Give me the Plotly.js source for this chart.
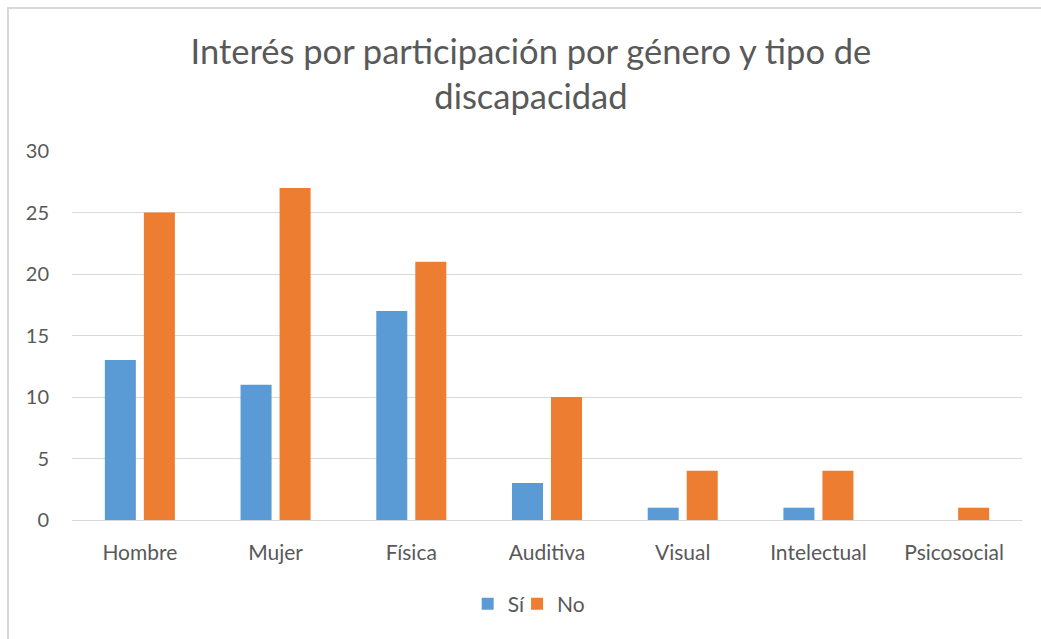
<!DOCTYPE html>
<html><head><meta charset="utf-8">
<script src="https://cdn.plot.ly/plotly-3.0.1.min.js"></script>
<style>
html,body{margin:0;padding:0;background:#fff;}
#wrap{position:relative;width:1041px;height:639px;}
#chart{position:absolute;left:0;top:0;width:1041px;height:639px;}
#frame{position:absolute;left:7px;top:7px;width:1100px;height:700px;border-left:2px solid #D9D9D9;border-top:2px solid #D9D9D9;pointer-events:none;}
</style></head>
<body><div id="wrap"><div id="chart"></div><div id="frame"></div></div>
<script>
const categories = ["Hombre","Mujer","Física","Auditiva","Visual","Intelectual","Psicosocial"];
const si = [13,11,17,3,1,1,0];
const no = [25,27,21,10,4,4,1];
const yTicks = [0,5,10,15,20,25,30];

const font = "Lato, 'Open Sans', sans-serif";
const traces = [
  {type:"bar", name:"Sí", x:categories, y:si, marker:{color:"#5B9BD5"}, legend:"legend"},
  {type:"bar", name:"No", x:categories, y:no, marker:{color:"#ED7D31"}, legend:"legend2"}
];
const legBase = {orientation:"h", xanchor:"left", y:-0.228, yanchor:"middle", font:{size:21}, itemwidth:30, bgcolor:"rgba(0,0,0,0)"};
const layout = {
  width:1041, height:639,
  paper_bgcolor:"rgba(0,0,0,0)", plot_bgcolor:"rgba(0,0,0,0)",
  margin:{l:72, r:19, t:151, b:119},
  font:{family:font, color:"#595959", size:20},
  title:{text:"Interés por participación por género y tipo de<br>discapacidad", x:0.51, xanchor:"center", yref:"container", y:0.9, yanchor:"middle", font:{family:font, size:34.5, color:"#595959"}},
  barmode:"group", bargap:0.425, bargroupgap:0.205,
  xaxis:{type:"category", showgrid:false, showline:true, linecolor:"#D9D9D9", linewidth:1, ticks:"", tickfont:{size:21}, ticklabelstandoff:14},
  yaxis:{range:[0,30], tickvals:yTicks, showgrid:true, gridcolor:"#D9D9D9", gridwidth:1, zeroline:false, showline:false, ticks:"", tickfont:{size:20}, ticklabelstandoff:22},
  showlegend:true,
  legend:Object.assign({}, legBase, {x:0.4165}),
  legend2:Object.assign({}, legBase, {x:0.4685})
};
Plotly.newPlot("chart", traces, layout, {displayModeBar:false, staticPlot:true});
</script></body></html>
